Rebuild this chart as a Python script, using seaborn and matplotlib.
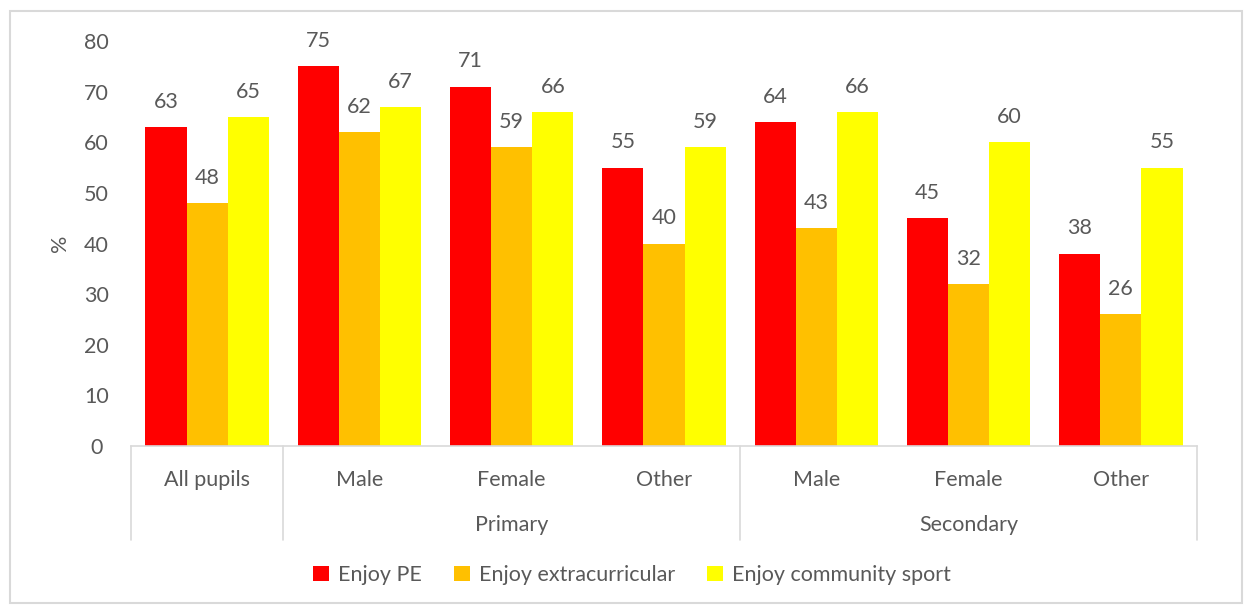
import pandas as pd
import seaborn as sns
import matplotlib.pyplot as plt
from matplotlib.patches import Rectangle

# ---- Data ----
categories = ["All pupils", "Male", "Female", "Other", "Male", "Female", "Other"]
groups = ["", "Primary", "Primary", "Primary", "Secondary", "Secondary", "Secondary"]
series = ["Enjoy PE", "Enjoy extracurricular", "Enjoy community sport"]
enjoy_pe = [63, 75, 71, 55, 64, 45, 38]
enjoy_extra = [48, 62, 59, 40, 43, 32, 26]
enjoy_community = [65, 67, 66, 59, 66, 60, 55]
colors = ["#FF0000", "#FFC000", "#FFFF00"]

keys = [f"{g} {c}".strip() for g, c in zip(groups, categories)]
rows = []
for s, vals in zip(series, [enjoy_pe, enjoy_extra, enjoy_community]):
    for k, v in zip(keys, vals):
        rows.append({"cat": k, "series": s, "value": v})
df = pd.DataFrame(rows)

sns.set_style("white")
plt.rcParams['font.family'] = ['Lato', 'DejaVu Sans']
text_color = "#595959"
line_color = "#D9D9D9"
fs = 15.5

fig = plt.figure(figsize=(12.44, 6.05), dpi=100)
ax = fig.add_axes([0.1053, 0.2628, 0.8569, 0.6694])

sns.barplot(data=df, x="cat", y="value", hue="series", order=keys,
            hue_order=series, palette=colors, width=0.81, gap=0,
            saturation=1, linewidth=0, ax=ax, legend=True)

for cont in ax.containers:
    ax.bar_label(cont, padding=11, fontsize=fs, color=text_color)

ax.set_ylim(0, 80)
ax.set_yticks(range(0, 81, 10))
ax.set_xlim(-0.5, len(keys) - 0.5)
ax.set_xlabel("")
ax.set_ylabel("%", fontsize=fs, color=text_color, labelpad=10)
ax.set_xticks(range(len(keys)))
ax.set_xticklabels(categories)
ax.tick_params(axis='x', length=0, pad=17, labelsize=fs, labelcolor=text_color)
ax.tick_params(axis='y', length=0, pad=25, labelsize=fs, labelcolor=text_color)
for t in ax.get_yticklabels():
    t.set_horizontalalignment('center')

for side in ["top", "right", "left"]:
    ax.spines[side].set_visible(False)
ax.spines["bottom"].set_color(line_color)
ax.spines["bottom"].set_linewidth(1.2)

# multi-level category axis
trans = ax.get_xaxis_transform()
for x in [-0.5, 0.5, 3.5, 6.5]:
    ax.plot([x, x], [0, -0.232], transform=trans, color=line_color, lw=1.2, clip_on=False)
ax.text(2, -0.195, "Primary", transform=trans, ha="center", va="center", fontsize=fs, color=text_color)
ax.text(5, -0.195, "Secondary", transform=trans, ha="center", va="center", fontsize=fs, color=text_color)

# legend
handles, labels = ax.get_legend_handles_labels()
ax.get_legend().remove()
fig.legend(handles, labels, loc="center", bbox_to_anchor=(0.508, 0.0496), ncol=3,
           frameon=False, fontsize=fs, labelcolor=text_color, handlelength=0.75,
           handleheight=0.75, handletextpad=0.4, columnspacing=1.5)

fig.patches.append(Rectangle((10 / 1244, 2 / 605), 1232 / 1244, 592 / 605, transform=fig.transFigure,
                             fill=False, edgecolor=line_color, lw=1.5))

plt.savefig("out.png", dpi=100)
